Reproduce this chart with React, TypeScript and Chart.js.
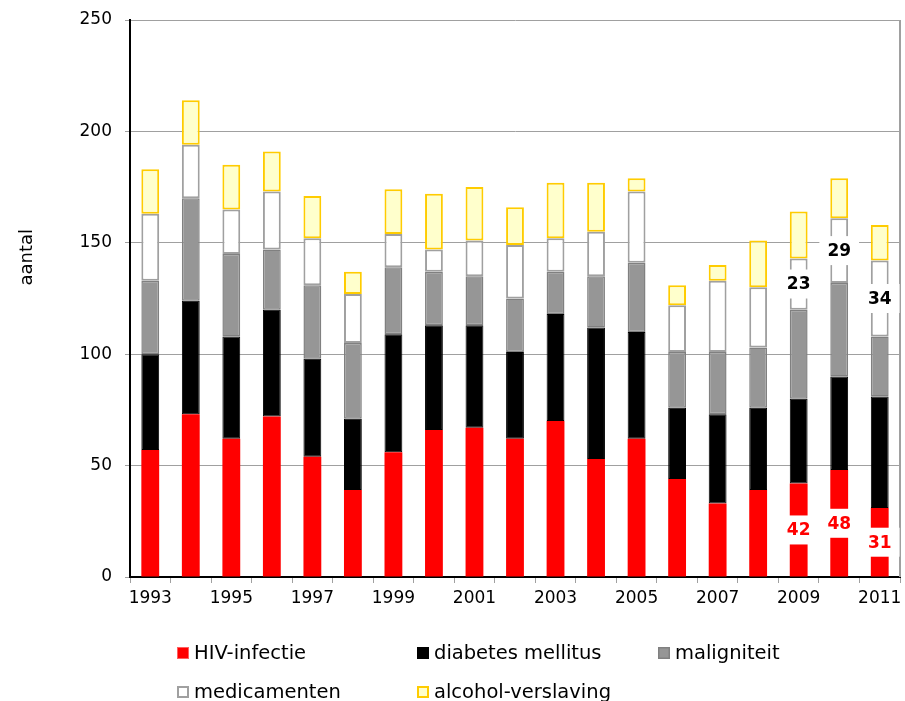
import React, { useEffect, useRef } from 'react';
import { Chart, registerables } from 'chart.js';

Chart.register(...registerables);

const years = ['1993', '1994', '1995', '1996', '1997', '1998', '1999', '2000', '2001', '2002', '2003', '2004', '2005', '2006', '2007', '2008', '2009', '2010', '2011'];
const hivInfectie = [57, 73, 62, 72, 54, 39, 56, 66, 67, 62, 70, 53, 62, 44, 33, 39, 42, 48, 31];
const diabetesMellitus = [43, 51, 46, 48, 44, 32, 53, 47, 46, 39, 48, 59, 48, 32, 40, 37, 38, 42, 50];
const maligniteit = [33, 46, 37, 27, 33, 34, 30, 24, 22, 24, 19, 23, 31, 25, 28, 27, 40, 42, 27];
const medicamenten = [30, 24, 20, 26, 21, 22, 15, 10, 16, 24, 15, 20, 32, 21, 32, 27, 23, 29, 34];
const alcoholVerslaving = [20, 20, 20, 18, 19, 10, 20, 25, 24, 17, 25, 22, 6, 9, 7, 21, 21, 18, 16];

const seriesNames = ['HIV-infectie', 'diabetes mellitus', 'maligniteit', 'medicamenten', 'alcohol-verslaving'];
const yMin = 0;
const yMax = 250;
const yStep = 50;
const yTitle = 'aantal';
const labeledYears = ['2009', '2010', '2011'];
const labeledSeries = [0, 3];

const FONT = "'DejaVu Sans', Verdana, sans-serif";

const fills = ['#ff0000', '#000000', '#969696', '#ffffff', '#ffffcc'];
const borders = ['#ff0000', '#000000', '#808080', '#a0a0a0', '#ffcc00'];
const borderWidths = [0, 1, 1.5, 2, 2];
const labelColors: Record<number, string> = { 0: '#ff0000', 3: '#000000' };

const extrasPlugin = {
  id: 'extras',
  afterDatasetsDraw(chart: any) {
    const ctx = chart.ctx;
    const area = chart.chartArea;
    ctx.save();
    ctx.strokeStyle = '#a0a0a0';
    ctx.lineWidth = 2;
    ctx.beginPath();
    ctx.moveTo(area.right, area.top);
    ctx.lineTo(area.right, area.bottom);
    ctx.stroke();
    ctx.restore();

    ctx.save();
    ctx.font = `bold 17px ${FONT}`;
    ctx.textAlign = 'center';
    ctx.textBaseline = 'middle';
    labeledSeries.forEach((di) => {
      const meta = chart.getDatasetMeta(di);
      const data = chart.data.datasets[di].data;
      labeledYears.forEach((yr) => {
        const idx = chart.data.labels.indexOf(yr);
        const el = meta.data[idx];
        if (!el) return;
        const cx = el.x;
        const cy = (el.y + el.base) / 2;
        const txt = String(data[idx]);
        const w = ctx.measureText(txt).width + 16;
        const h = 29;
        ctx.fillStyle = '#ffffff';
        ctx.fillRect(cx - w / 2, cy - h / 2, w, h);
        ctx.fillStyle = labelColors[di];
        ctx.fillText(txt, cx, cy + 1);
      });
    });
    ctx.restore();
  },
  afterDraw(chart: any) {
    const ctx = chart.ctx;
    const area = chart.chartArea;
    ctx.save();
    ctx.font = `18px ${FONT}`;
    ctx.fillStyle = '#000';
    ctx.textAlign = 'center';
    ctx.textBaseline = 'middle';
    ctx.translate(27, area.top + (area.bottom - area.top) * 0.426);
    ctx.rotate(-Math.PI / 2);
    ctx.fillText(yTitle, 0, 0);
    ctx.restore();

    ctx.save();
    ctx.font = `19.5px ${FONT}`;
    ctx.textBaseline = 'middle';
    ctx.textAlign = 'left';
    const colX = [177, 417, 658];
    const rowY = [653, 692];
    chart.data.datasets.forEach((ds: any, i: number) => {
      const x = colX[i % 3];
      const y = rowY[Math.floor(i / 3)];
      ctx.fillStyle = ds.backgroundColor;
      ctx.fillRect(x, y - 6, 12, 12);
      const bw = Math.max(1, ds.borderWidth);
      ctx.strokeStyle = i === 0 ? '#ff6060' : ds.borderColor;
      ctx.lineWidth = bw;
      ctx.strokeRect(x + bw / 2, y - 6 + bw / 2, 12 - bw, 12 - bw);
      ctx.fillStyle = '#000';
      ctx.fillText(ds.label, x + 17, y + 1);
    });
    ctx.restore();
  },
};

export default function App() {
  const ref = useRef<HTMLCanvasElement | null>(null);
  useEffect(() => {
    if (!ref.current) return;
    Chart.defaults.font.family = FONT;
    const seriesData = [hivInfectie, diabetesMellitus, maligniteit, medicamenten, alcoholVerslaving];
    const chart = new Chart(ref.current, {
      type: 'bar',
      data: {
        labels: years,
        datasets: seriesData.map((d, i) => ({
          label: seriesNames[i],
          data: d,
          backgroundColor: fills[i],
          borderColor: borders[i],
          borderWidth: borderWidths[i],
          borderSkipped: false,
          barPercentage: 0.44,
          categoryPercentage: 1,
        })),
      },
      options: {
        responsive: false,
        animation: false,
        events: [],
        devicePixelRatio: 1,
        layout: { padding: { left: 0, right: 5, top: 20, bottom: 0 } },
        plugins: {
          legend: { display: false },
          tooltip: { enabled: false },
          title: { display: false },
        },
        scales: {
          x: {
            stacked: true,
            offset: true,
            grid: {
              offset: true,
              drawOnChartArea: false,
              drawTicks: true,
              tickLength: 6,
              color: '#a0a0a0',
            },
            border: { color: '#000', width: 2 },
            ticks: {
              autoSkip: false,
              maxRotation: 0,
              minRotation: 0,
              color: '#000',
              padding: 5,
              font: { size: 17, family: FONT },
              callback: (_v: any, i: number) => (i % 2 === 0 ? years[i] : ''),
            },
            afterFit: (s: any) => {
              s.height = 124;
              s.paddingLeft = 0;
              s.paddingRight = 0;
            },
          },
          y: {
            stacked: true,
            min: yMin,
            max: yMax,
            ticks: {
              stepSize: yStep,
              color: '#000',
              padding: 13,
              font: { size: 17, family: FONT },
            },
            grid: {
              color: (c: any) => (c.tick && c.tick.value === 0 ? 'rgba(0,0,0,0)' : '#a0a0a0'),
              tickColor: '#a0a0a0',
              tickLength: 5,
              lineWidth: 1,
            },
            border: { color: '#000', width: 2 },
            afterFit: (s: any) => {
              s.width = 130;
              s.paddingTop = 0;
              s.paddingBottom = 0;
            },
          },
        },
      },
      plugins: [extrasPlugin],
    });
    return () => chart.destroy();
  }, []);
  return (
    <div style={{ position: 'absolute', left: 0, top: 0, width: 905, height: 701, background: '#fff' }}>
      <canvas ref={ref} width={905} height={701} style={{ display: 'block' }} />
    </div>
  );
}
